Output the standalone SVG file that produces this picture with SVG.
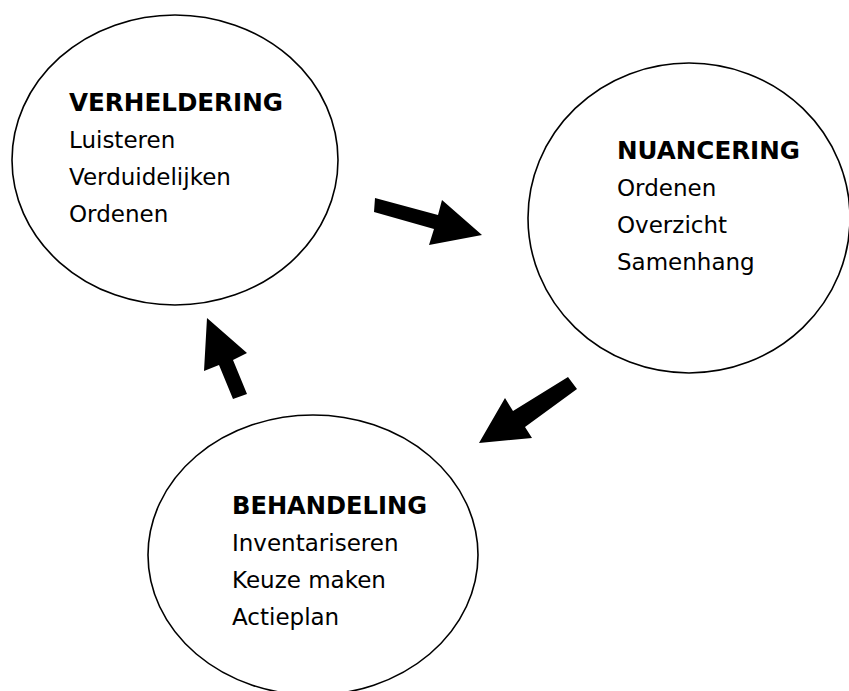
<svg xmlns="http://www.w3.org/2000/svg" width="849" height="691" viewBox="0 0 849 691">
<style>
.node ellipse{fill:none;stroke:#000;stroke-width:1.6}
.t{font-family:"DejaVu Sans","Verdana",sans-serif;font-size:23px;fill:#000}
.b{font-weight:bold;font-size:24px}
.arrow{fill:#000}
</style>
<rect width="849" height="691" fill="#fff"/>
<g id="verheldering" class="node">
<ellipse cx="175" cy="160" rx="163" ry="145"/>
<text class="t b" x="69" y="111" textLength="214" lengthAdjust="spacingAndGlyphs">VERHELDERING</text>
<text class="t" x="69" y="148">Luisteren</text>
<text class="t" x="69" y="185">Verduidelijken</text>
<text class="t" x="69" y="222">Ordenen</text>
</g>
<g id="nuancering" class="node">
<ellipse cx="689" cy="218" rx="161" ry="155"/>
<text class="t b" x="617" y="159" textLength="183" lengthAdjust="spacingAndGlyphs">NUANCERING</text>
<text class="t" x="617" y="196">Ordenen</text>
<text class="t" x="617" y="233">Overzicht</text>
<text class="t" x="617" y="270">Samenhang</text>
</g>
<g id="behandeling" class="node">
<ellipse cx="313" cy="555" rx="165" ry="140"/>
<text class="t b" x="232" y="514" textLength="195" lengthAdjust="spacingAndGlyphs">BEHANDELING</text>
<text class="t" x="232" y="551">Inventariseren</text>
<text class="t" x="232" y="588">Keuze maken</text>
<text class="t" x="232" y="625">Actieplan</text>
</g>
<g id="connectors">
<polygon class="arrow" points="375,198 438,215 442,200 482,235 429,245 434,229 374,212"/>
<polygon class="arrow" points="568,377 577,389 525,427 532,438 479,443 505,398 513,411"/>
<polygon class="arrow" points="207,318 247,353 233,360 247,394 233,399 219,365 204,371"/>
</g>
</svg>
